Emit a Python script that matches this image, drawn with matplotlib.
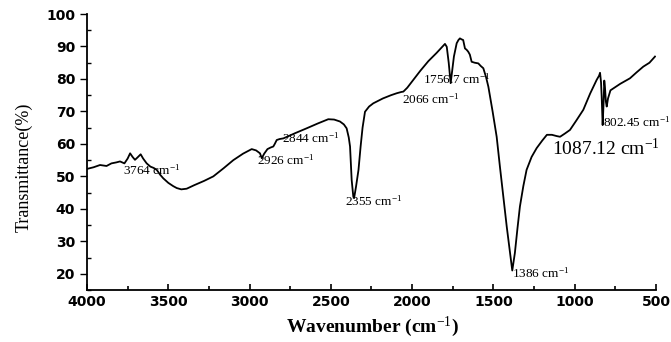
import matplotlib
matplotlib.use('Agg')
import matplotlib.pyplot as plt
from matplotlib.ticker import MultipleLocator
import numpy as np

# FTIR spectrum (wavenumber cm-1, transmittance %)
wavenumber = [4000, 3960, 3920, 3880, 3850, 3820, 3797, 3770, 3750, 3735,
              3720, 3705, 3690, 3670, 3655, 3640, 3633, 3610, 3590, 3571,
              3550, 3531, 3500, 3470, 3448, 3420, 3387, 3340, 3280, 3223,
              3160, 3100, 3040, 2987, 2960, 2936, 2925, 2910, 2890, 2870,
              2854, 2845, 2833, 2815, 2792, 2720, 2649, 2580, 2516, 2480,
              2444, 2420, 2403, 2390, 2382, 2372, 2362, 2357, 2345, 2330,
              2317, 2305, 2290, 2265, 2239, 2180, 2130, 2095, 2066, 2054,
              2030, 1993, 1950, 1900, 1850, 1798, 1787, 1775, 1763, 1755,
              1743, 1726, 1715, 1706, 1696, 1686, 1680, 1675, 1665, 1655,
              1645, 1634, 1615, 1593, 1578, 1562, 1545, 1531, 1505, 1480,
              1460, 1439, 1418, 1398, 1384, 1368, 1352, 1337, 1316, 1296,
              1265, 1234, 1200, 1171, 1140, 1110, 1090, 1060, 1029, 990,
              947, 905, 865, 850, 844, 838, 834, 828, 822, 818,
              814, 808, 803, 795, 780, 762, 720, 660, 620, 578,
              540, 506]
transmittance = [52.3, 52.8, 53.5, 53.2, 54.0, 54.3, 54.6, 54.0, 55.5, 57.1,
                 56.0, 55.1, 55.8, 56.8, 55.5, 54.5, 54.0, 53.0, 52.6, 52.0,
                 50.5, 49.4, 48.0, 47.0, 46.4, 46.0, 46.2, 47.3, 48.6, 50.0,
                 52.5, 55.0, 57.0, 58.4, 58.0, 57.1, 55.6, 57.0, 58.4, 58.9,
                 59.2, 60.0, 61.2, 61.5, 61.7, 63.3, 64.8, 66.3, 67.6, 67.5,
                 66.9, 66.0, 64.8, 62.0, 59.2, 48.9, 43.8, 43.3, 46.9, 52.0,
                 59.2, 65.0, 69.9, 71.5, 72.5, 74.0, 75.0, 75.6, 76.0, 76.1,
                 77.3, 79.7, 82.5, 85.5, 88.0, 90.8, 89.9, 85.0, 78.7, 82.0,
                 86.9, 91.0, 92.0, 92.5, 92.2, 92.0, 90.5, 89.4, 89.0, 88.4,
                 87.5, 85.3, 85.0, 84.8, 84.0, 83.3, 80.5, 77.6, 70.0, 62.2,
                 53.0, 43.8, 34.5, 26.4, 21.0, 26.4, 34.0, 40.7, 47.0, 52.0,
                 56.0, 58.7, 61.0, 62.8, 62.8, 62.4, 62.2, 63.2, 64.3, 67.2,
                 70.5, 75.5, 79.7, 81.0, 81.9, 79.0, 74.6, 65.8, 73.0, 79.5,
                 77.6, 73.0, 71.5, 74.0, 76.5, 77.1, 78.5, 80.2, 82.0, 83.8,
                 85.0, 86.9]

# peak labels: text, x, y (vertical centre)
peak_labels = ['3764 cm$^{-1}$', '2926 cm$^{-1}$', '2844 cm$^{-1}$', '2355 cm$^{-1}$',
               '2066 cm$^{-1}$', '1756.7 cm$^{-1}$', '1386 cm$^{-1}$', '802.45 cm$^{-1}$']
label_x = [3779, 2954, 2802, 2413, 2064, 1931, 1388, 828]
label_y = [52.0, 55.1, 61.7, 42.3, 73.8, 79.9, 20.2, 66.6]

plt.rcParams['mathtext.fontset'] = 'custom'
plt.rcParams['mathtext.rm'] = 'Liberation Serif'
plt.rcParams['mathtext.it'] = 'Liberation Serif:italic'
plt.rcParams['mathtext.bf'] = 'Liberation Serif:bold'

fig = plt.figure(figsize=(6.71, 3.42), dpi=100)
ax = fig.add_axes([0.1297, 0.152, 0.8479, 0.807])

ax.plot(wavenumber, transmittance, color='black', lw=1.3)

ax.set_xlim(4000, 500)
ax.set_ylim(15, 100)
ax.spines['top'].set_visible(False)
ax.spines['right'].set_visible(False)
ax.spines['left'].set_linewidth(1.3)
ax.spines['bottom'].set_linewidth(1.3)

ax.xaxis.set_major_locator(MultipleLocator(500))
ax.xaxis.set_minor_locator(MultipleLocator(250))
ax.yaxis.set_major_locator(MultipleLocator(10))
ax.yaxis.set_minor_locator(MultipleLocator(5))
ax.set_yticks(np.arange(20, 101, 10))

ax.tick_params(axis='y', which='major', direction='out', length=5, width=1)
ax.tick_params(axis='y', which='minor', direction='in', length=3, width=1)
ax.tick_params(axis='x', which='major', direction='in', length=4, width=1.2)
ax.tick_params(axis='x', which='minor', direction='in', length=3, width=1.2)

for lab in ax.get_xticklabels() + ax.get_yticklabels():
    lab.set_fontfamily('DejaVu Sans')
    lab.set_fontsize(10)
    lab.set_fontweight('bold')

for t, x, y in zip(peak_labels, label_x, label_y):
    ax.text(x, y, t, family='Liberation Serif', fontsize=9.5,
            ha='left', va='center')

ax.text(1142, 58.7, '1087.12 cm$^{-1}$', family='Liberation Serif',
        fontsize=14, ha='left', va='center')

fig.text(0.555, 0.045, 'Wavenumber (cm$^{-1}$)', family='Liberation Serif',
         fontsize=14, fontweight='bold', ha='center', va='center')
fig.text(0.036, 0.51, 'Transmittance(%)', family='Liberation Serif',
         fontsize=13, rotation=90, ha='center', va='center')

fig.savefig('out.png', dpi=100)
